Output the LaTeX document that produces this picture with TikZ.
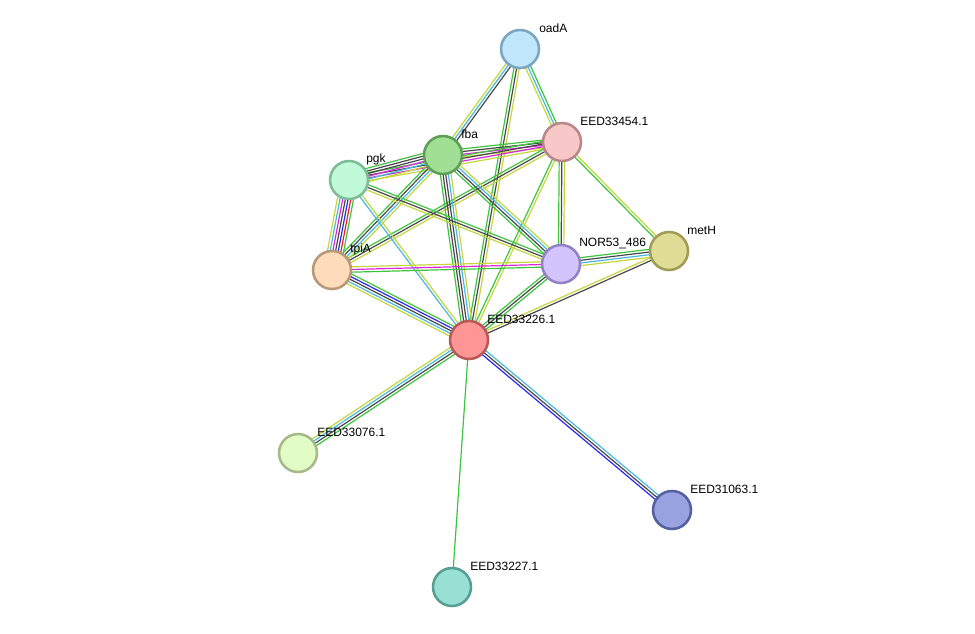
\documentclass[tikz,border=0pt]{standalone}
\usepackage{fontspec}
\setmainfont{Liberation Sans}
\usetikzlibrary{calc,backgrounds}
\definecolor{gr}{RGB}{61,196,61}
\definecolor{lm}{RGB}{196,214,60}
\definecolor{dk}{RGB}{72,72,72}
\definecolor{cy}{RGB}{70,185,225}
\definecolor{mg}{RGB}{220,40,220}
\definecolor{bl}{RGB}{40,40,245}
\definecolor{rd}{RGB}{240,30,30}
\tikzset{
  prot/.style={circle,minimum size=28.5pt,inner sep=0pt,line width=1.9pt},
  lab/.style={anchor=west,inner sep=0pt,font=\fontsize{9pt}{10pt}\selectfont},
  ln/.style={line width=0.9pt}
}
\newcommand\edg[4]{%
  \foreach \cc [count=\ii from 0] in {#4} {%
    \pgfmathsetmacro\oo{(\ii-(#3-1)/2)*2.0}%
    \draw[ln,\cc] ($(#1.center)!\oo pt!90:(#2.center)$) -- ($(#2.center)!\oo pt!-90:(#1.center)$);%
  }%
}
\begin{document}
\begin{tikzpicture}[x=0.75pt,y=-0.75pt]
\useasboundingbox (0,0) rectangle (975,633);
\node[prot,fill={rgb,255:red,192;green,230;blue,250},draw={rgb,255:red,122;green,166;blue,194}] (oadA) at (520,49) {};
\node[prot,fill={rgb,255:red,248;green,200;blue,200},draw={rgb,255:red,184;green,136;blue,136}] (e454) at (562,142) {};
\node[prot,fill={rgb,255:red,160;green,223;blue,148},draw={rgb,255:red,94;green,158;blue,86}] (fba) at (443,155) {};
\node[prot,fill={rgb,255:red,192;green,250;blue,216},draw={rgb,255:red,126;green,188;blue,152}] (pgk) at (349,180) {};
\node[prot,fill={rgb,255:red,253;green,220;blue,188},draw={rgb,255:red,184;green,152;blue,120}] (tpiA) at (332,270) {};
\node[prot,fill={rgb,255:red,211;green,196;blue,251},draw={rgb,255:red,148;green,128;blue,196}] (nor) at (561,264) {};
\node[prot,fill={rgb,255:red,223;green,220;blue,149},draw={rgb,255:red,160;green,156;blue,85}] (metH) at (669,251) {};
\node[prot,fill={rgb,255:red,254;green,150;blue,150},draw={rgb,255:red,184;green,88;blue,88}] (e226) at (469,340) {};
\node[prot,fill={rgb,255:red,226;green,252;blue,198},draw={rgb,255:red,164;green,186;blue,136}] (e076) at (298,453) {};
\node[prot,fill={rgb,255:red,152;green,162;blue,224},draw={rgb,255:red,84;green,96;blue,160}] (e063) at (672,510) {};
\node[prot,fill={rgb,255:red,152;green,224;blue,212},draw={rgb,255:red,88;green,158;blue,148}] (e227) at (452,587) {};
\node[lab] (loadA) at ($(oadA)+(19,-21)$) {oadA};
\node[lab] (le454) at ($(e454)+(18,-21)$) {EED33454.1};
\node[lab] (lfba) at ($(fba)+(18,-21)$) {fba};
\node[lab] (lpgk) at ($(pgk)+(17,-21)$) {pgk};
\node[lab] (ltpiA) at ($(tpiA)+(18,-21)$) {tpiA};
\node[lab] (lnor) at ($(nor)+(18,-21)$) {NOR53\_486};
\node[lab] (lmetH) at ($(metH)+(18,-21)$) {metH};
\node[lab] (le226) at ($(e226)+(18,-21)$) {EED33226.1};
\node[lab] (le076) at ($(e076)+(19,-21)$) {EED33076.1};
\node[lab] (le063) at ($(e063)+(18,-21)$) {EED31063.1};
\node[lab] (le227) at ($(e227)+(18,-21)$) {EED33227.1};
\begin{pgfonlayer}{background}
\edg{oadA}{fba}{3}{lm,cy,dk}
\edg{oadA}{e226}{3}{gr,dk,lm}
\edg{oadA}{e454}{3}{lm,cy,gr}
\edg{fba}{e454}{4}{lm,mg,dk,gr}
\edg{pgk}{e454}{4}{lm,mg,dk,gr}
\edg{tpiA}{e454}{3}{lm,dk,gr}
\edg{e454}{nor}{3}{gr,dk,lm}
\edg{e454}{metH}{2}{gr,lm}
\edg{e454}{e226}{2}{gr,lm}
\edg{fba}{tpiA}{4}{gr,dk,cy,lm}
\edg{fba}{nor}{4}{gr,dk,cy,lm}
\edg{fba}{e226}{5}{gr,dk,dk,cy,lm}
\edg{pgk}{fba}{6}{lm,cy,mg,dk,dk,gr}
\edg{pgk}{tpiA}{7}{lm,cy,mg,dk,bl,rd,gr}
\edg{pgk}{nor}{3}{lm,dk,gr}
\edg{pgk}{e226}{2}{cy,lm}
\edg{tpiA}{nor}{3}{gr,mg,lm}
\edg{tpiA}{e226}{5}{lm,cy,dk,bl,gr}
\edg{nor}{metH}{4}{lm,cy,dk,gr}
\edg{nor}{e226}{3}{gr,dk,gr}
\edg{metH}{e226}{2}{lm,dk}
\edg{e226}{e076}{4}{lm,cy,dk,gr}
\edg{e226}{e063}{3}{bl,dk,cy}
\edg{e226}{e227}{1}{gr}
\end{pgfonlayer}
\end{tikzpicture}
\end{document}
